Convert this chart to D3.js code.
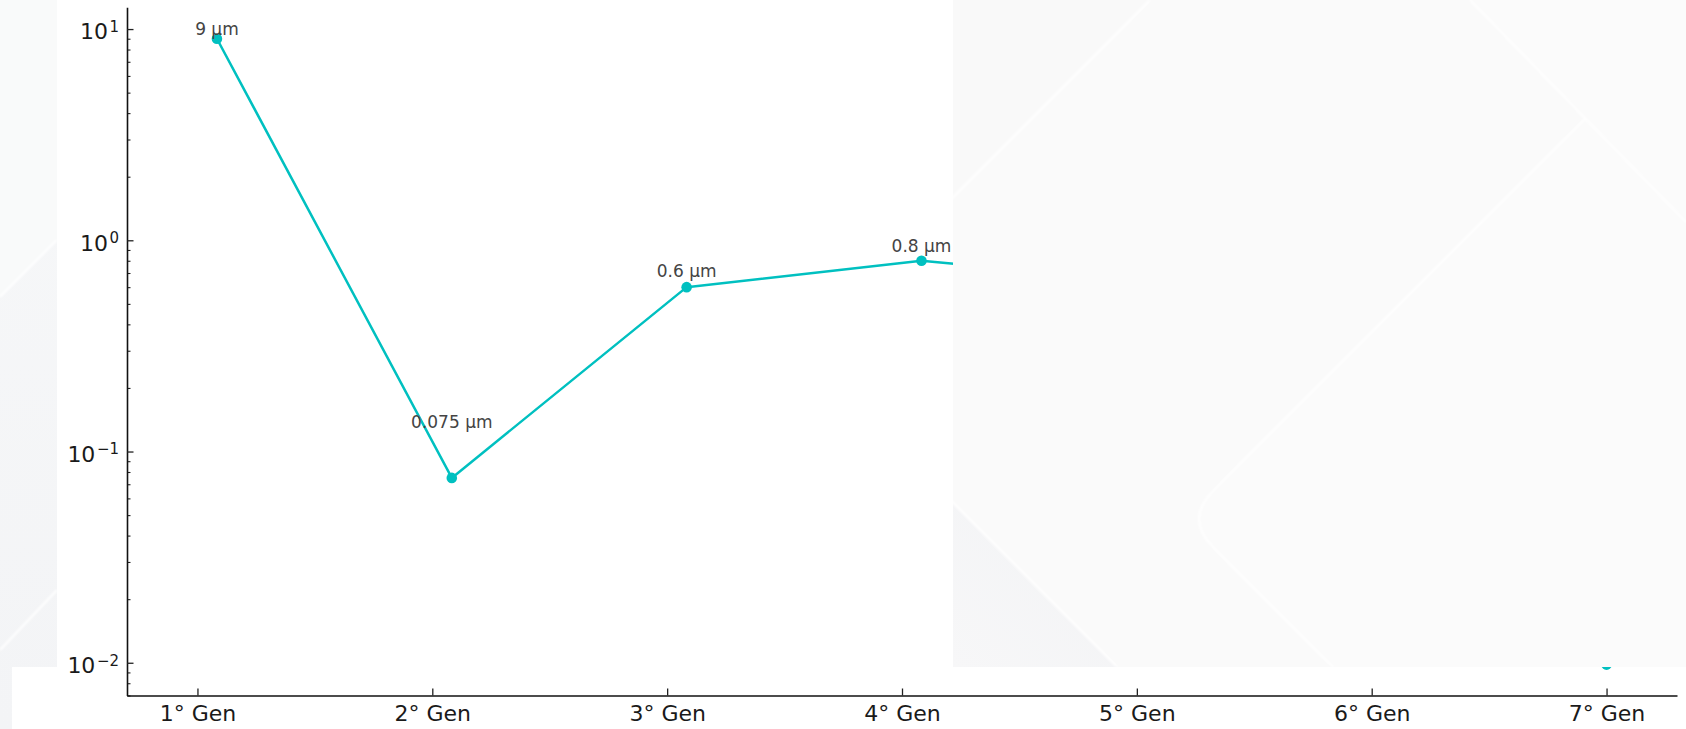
<!DOCTYPE html>
<html>
<head>
<meta charset="utf-8">
<script src="https://cdn.jsdelivr.net/npm/d3@7"></script>
<style>
  html, body { margin: 0; padding: 0; background: #fff; }
  svg { display: block; font-family: "DejaVu Sans", sans-serif; }
</style>
</head>
<body>
<svg id="chart" width="1686" height="729"></svg>
<script>
// ---- data ----
const generations = ["1° Gen", "2° Gen", "3° Gen", "4° Gen", "5° Gen", "6° Gen", "7° Gen"];
const genPositions = [0, 1, 2, 3, 4, 5, 6];
const sizeX = [0.083, 1.083, 2.083, 3.083, 4.083, 5.083, 6];
const sizeUm = [9, 0.075, 0.6, 0.8, 0.63, null, 0.0098];
const sizeLabels = ["9 µm", "0.075 µm", "0.6 µm", "0.8 µm", null, null, null];
const majorTicks = [0.01, 0.1, 1, 10];
const tickExponents = ["\u22122", "\u22121", "0", "1"];

// ---- layout / style ----
const W = 1686, H = 729;
const plot = { left: 127, right: 1677, top: 7.3, bottom: 695.5 };
const lineColor = "#00c0c0";
const labelDy = [-4, -50, -10, -9, -9, -9, -9];

const svg = d3.select("#chart");
const defs = svg.append("defs");
defs.append("filter").attr("id", "soft")
  .attr("x", "-5%").attr("y", "-5%").attr("width", "110%").attr("height", "110%")
  .append("feGaussianBlur").attr("stdDeviation", 0.8);

svg.append("rect").attr("width", W).attr("height", H).attr("fill", "#fff");

const x = d3.scaleLinear().domain([-0.3, 6.3]).range([plot.left, plot.right]);
const y = d3.scaleLog()
  .domain([Math.pow(10, -2.155), Math.pow(10, 1.103)])
  .range([plot.bottom, plot.top]);

// minor ticks for the log axis (2..9 × each decade inside the domain)
const minorTicks = [];
for (let e = -3; e <= 1; e++) {
  for (let k = 2; k <= 9; k++) {
    const v = k * Math.pow(10, e);
    if (v >= y.domain()[0] && v <= y.domain()[1]) minorTicks.push(v);
  }
}

// ---- y axis ----
const gyMinor = svg.append("g")
  .attr("transform", `translate(${plot.left},0)`)
  .call(d3.axisLeft(y).tickValues(minorTicks).tickSize(-3.5).tickSizeOuter(0).tickFormat(""));
gyMinor.select(".domain").remove();
gyMinor.selectAll(".tick line").attr("stroke", "#222").attr("stroke-width", 1.1);

const gy = svg.append("g")
  .attr("transform", `translate(${plot.left},0)`)
  .call(d3.axisLeft(y).tickValues(majorTicks).tickSize(-6.5).tickSizeOuter(0).tickPadding(8).tickFormat(""))
  .attr("font-family", "DejaVu Sans")
  .attr("font-size", 22);
gy.select(".domain").attr("stroke", "#111").attr("stroke-width", 1.6);
gy.selectAll(".tick line").attr("stroke", "#222").attr("stroke-width", 1.3);
gy.selectAll(".tick text")
  .attr("fill", "#1a1a1a")
  .attr("dy", "0.45em")
  .each(function (d, i) {
    const t = d3.select(this);
    t.append("tspan").text("10");
    t.append("tspan").attr("dx", 1.5).attr("dy", -7.5).attr("font-size", 15).text(tickExponents[i]);
  });

// ---- x axis ----
const gx = svg.append("g")
  .attr("transform", `translate(0,${plot.bottom})`)
  .call(d3.axisBottom(x).tickValues(genPositions).tickSize(-7).tickSizeOuter(0).tickPadding(10)
    .tickFormat((d, i) => generations[i]))
  .attr("font-family", "DejaVu Sans")
  .attr("font-size", 22);
gx.select(".domain").attr("stroke", "#111").attr("stroke-width", 1.6);
gx.selectAll(".tick line").attr("stroke", "#222").attr("stroke-width", 1.3);
gx.selectAll(".tick text").attr("fill", "#1a1a1a");

// ---- series ----
const points = sizeX.map((px, i) => ({ x: px, v: sizeUm[i], label: sizeLabels[i], dy: labelDy[i] }));

const line = d3.line()
  .defined(d => d.v != null)
  .x(d => x(d.x))
  .y(d => y(d.v));

svg.append("path")
  .datum(points)
  .attr("d", line)
  .attr("fill", "none")
  .attr("stroke", lineColor)
  .attr("stroke-width", 2.5)
  .attr("stroke-linejoin", "round");

svg.append("g").selectAll("circle")
  .data(points.filter(d => d.v != null))
  .join("circle")
  .attr("cx", d => x(d.x))
  .attr("cy", d => y(d.v))
  .attr("r", 5.3)
  .attr("fill", lineColor);

svg.append("g").selectAll("text")
  .data(points.filter(d => d.v != null && d.label))
  .join("text")
  .attr("x", d => x(d.x))
  .attr("y", d => y(d.v) + d.dy)
  .attr("text-anchor", "middle")
  .attr("font-size", 17)
  .attr("fill", "#444")
  .text(d => d.label);

// ---- light wallpaper panels laid over the page ----
const gradBL = defs.append("linearGradient").attr("id", "gradBL")
  .attr("x1", "1").attr("y1", "0").attr("x2", "0").attr("y2", "1");
gradBL.append("stop").attr("offset", "0%").attr("stop-color", "#f2f3f5");
gradBL.append("stop").attr("offset", "100%").attr("stop-color", "#f7f7f8");

const gradLeft = defs.append("linearGradient").attr("id", "gradLeft")
  .attr("x1", "0").attr("y1", "0").attr("x2", "0").attr("y2", "1");
gradLeft.append("stop").attr("offset", "0%").attr("stop-color", "#f7f8f9");
gradLeft.append("stop").attr("offset", "100%").attr("stop-color", "#f3f4f6");

defs.append("clipPath").attr("id", "rightClip")
  .append("rect").attr("x", 953).attr("y", 0).attr("width", W - 953).attr("height", 667);
defs.append("clipPath").attr("id", "leftClip")
  .append("path").attr("d", "M0,0 H57 V667 H12 V729 H0 Z");

const rp = svg.append("g").attr("clip-path", "url(#rightClip)");
rp.append("rect").attr("x", 953).attr("y", 0).attr("width", W - 953).attr("height", 667).attr("fill", "#f9f9f9");
rp.append("path").attr("d", "M1150,0 L800,350 L1117,667 L1686,667 L1686,0 Z").attr("fill", "#fafafa");
rp.append("path").attr("d", "M953,503 L1117,667 L953,667 Z").attr("fill", "url(#gradBL)");
rp.append("path").attr("d", "M1586,118 L1213,491 Q1185,519 1213,547 L1333,667 L1686,667 L1686,222 Z").attr("fill", "#fbfbfb");
rp.append("path").attr("d", "M1470,0 L1686,222 L1686,0 Z").attr("fill", "#fbfbfb");
rp.append("g").attr("filter", "url(#soft)")
  .selectAll("path")
  .data(["M1150,0 L800,350 L1117,667",
         "M1586,118 L1213,491 Q1185,519 1213,547 L1333,667",
         "M1470,0 L1686,222"])
  .join("path")
  .attr("d", d => d)
  .attr("fill", "none")
  .attr("stroke", "#ffffff")
  .attr("stroke-width", 2.4)
  .attr("opacity", 0.85);

const lp = svg.append("g").attr("clip-path", "url(#leftClip)");
lp.append("rect").attr("x", 0).attr("y", 0).attr("width", 57).attr("height", H).attr("fill", "url(#gradLeft)");
lp.append("path").attr("d", "M0,0 L57,0 L57,240 L0,297 Z").attr("fill", "#f9fafa");
lp.append("g").attr("filter", "url(#soft)")
  .selectAll("path")
  .data(["M57,240 L0,297", "M57,590 L0,650"])
  .join("path")
  .attr("d", d => d)
  .attr("fill", "none")
  .attr("stroke", "#ffffff")
  .attr("stroke-width", 2.4)
  .attr("opacity", 0.9);
</script>
</body>
</html>
